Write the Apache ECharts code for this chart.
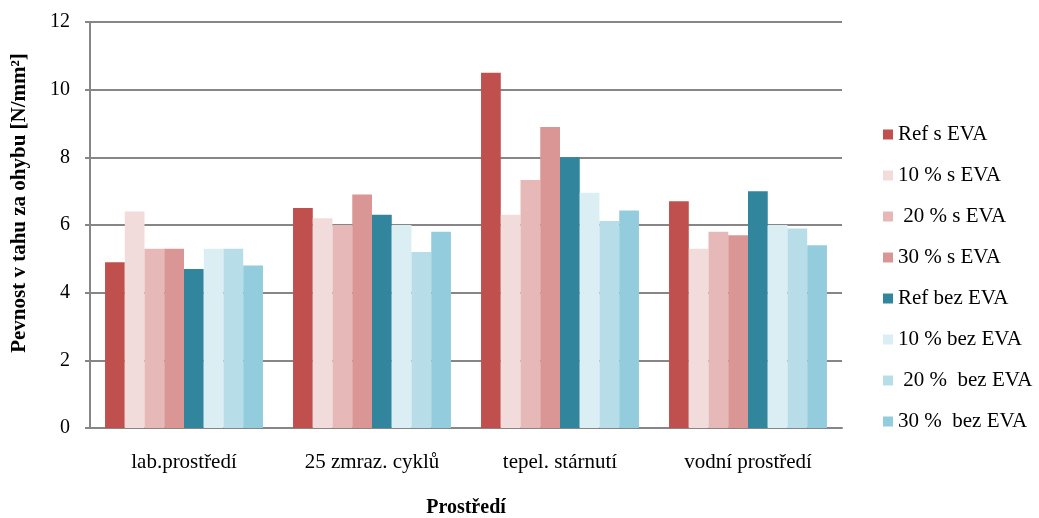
<!DOCTYPE html>
<html lang="cs">
<head>
    <meta charset="UTF-8">
    <script type="text/javascript" src="https://cdn.jsdelivr.net/npm/echarts@6/dist/echarts.min.js"></script>
    <style>
        html, body { margin: 0; padding: 0; background: #fff; }
        #chart { width: 1039px; height: 518px; }
    </style>
</head>
<body>
    <div id="chart"></div>
</body>
<script>
    // kategorie (osa x)
    var categories = ["lab.prostředí", "25 zmraz. cyklů", "tepel. stárnutí", "vodní prostředí"];

    // hodnoty řad
    var refSEva = [4.9, 6.5, 10.5, 6.7];
    var p10SEva = [6.4, 6.2, 6.3, 5.3];
    var p20SEva = [5.3, 6.0, 7.33, 5.8];
    var p30SEva = [5.3, 6.9, 8.9, 5.7];
    var refBezEva = [4.7, 6.3, 8.0, 7.0];
    var p10BezEva = [5.3, 6.0, 6.95, 6.0];
    var p20BezEva = [5.3, 5.2, 6.12, 5.9];
    var p30BezEva = [4.8, 5.8, 6.43, 5.4];

    var seriesNames = ["Ref s EVA", "10 % s EVA", " 20 % s EVA", "30 % s EVA",
                       "Ref bez EVA", "10 % bez EVA", " 20 %  bez EVA", "30 %  bez EVA"];
    var seriesData = [refSEva, p10SEva, p20SEva, p30SEva, refBezEva, p10BezEva, p20BezEva, p30BezEva];
    var colors = ["#C0504D", "#F2DCDB", "#E6B9B8", "#D99694", "#31859C", "#DBEEF4", "#B7DEE8", "#93CDDD"];

    var font = "'Liberation Serif', 'Times New Roman', serif";

    var series = [];
    for (var i = 0; i < seriesNames.length; i++) {
        series.push({
            name: seriesNames[i],
            type: "bar",
            data: seriesData[i],
            barGap: "0%",
            barCategoryGap: "16%",
            itemStyle: { color: colors[i] }
        });
    }

    var chart = echarts.init(document.getElementById("chart"));
    chart.setOption({
        animation: false,
        color: colors,
        grid: { left: 90, right: 197, top: 22, bottom: 90, outerBoundsMode: "none", containLabel: false },
        legend: {
            orient: "vertical",
            left: 878,
            top: 119,
            itemWidth: 10,
            itemHeight: 10,
            itemGap: 20,
            icon: "rect",
            textStyle: { fontFamily: font, fontSize: 21, lineHeight: 20, color: "#000" },
            data: seriesNames
        },
        xAxis: {
            type: "category",
            data: categories,
            name: "Prostředí",
            nameLocation: "middle",
            nameGap: 70,
            nameTextStyle: { fontFamily: font, fontSize: 20, fontWeight: "bold", color: "#000" },
            axisLine: { lineStyle: { color: "#868686", width: 2 } },
            axisTick: { show: false },
            axisLabel: { fontFamily: font, fontSize: 21, color: "#000", margin: 24 }
        },
        yAxis: {
            type: "value",
            min: 0,
            max: 12,
            interval: 2,
            name: "Pevnost v tahu za ohybu [N/mm²]",
            nameLocation: "middle",
            nameGap: 60,
            nameTextStyle: { fontFamily: font, fontSize: 21, fontWeight: "bold", color: "#000", padding: [0, 0, 0, 44] },
            axisLine: { show: true, lineStyle: { color: "#868686", width: 2 } },
            axisTick: { show: true, length: 5, lineStyle: { color: "#868686", width: 2 } },
            axisLabel: { fontFamily: font, fontSize: 20, color: "#000", margin: 20 },
            splitLine: { lineStyle: { color: "#868686", width: 2 } }
        },
        series: series
    });
</script>
</html>
